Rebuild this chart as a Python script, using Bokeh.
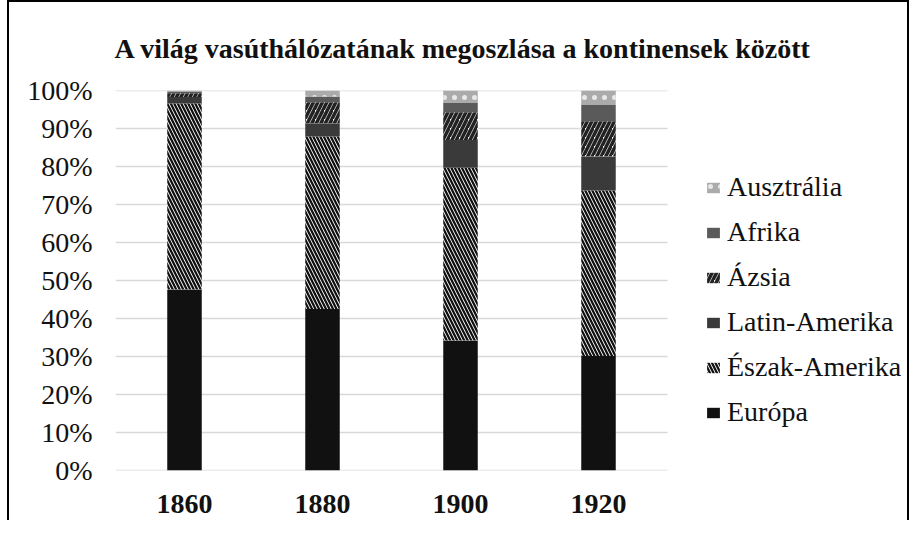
from bokeh.plotting import figure
from bokeh.models import (ColumnDataSource, Legend, LegendItem, FixedTicker,
                          NumeralTickFormatter, Range1d)
from bokeh.embed import file_html
from bokeh.resources import INLINE
import numpy as np

years = ["1860", "1880", "1900", "1920"]
series_names = ["Európa", "Észak-Amerika", "Latin-Amerika", "Ázsia", "Afrika", "Ausztrália"]
europa = [47.6, 42.5, 34.2, 30.1]
eszak_amerika = [49.0, 45.4, 45.5, 43.6]
latin_amerika = [1.7, 3.5, 7.3, 8.9]
azsia = [1.0, 5.5, 7.3, 9.3]
afrika = [0.3, 1.5, 2.4, 4.3]
ausztralia = [0.4, 1.6, 3.3, 3.8]
y_ticks = [0, 0.1, 0.2, 0.3, 0.4, 0.5, 0.6, 0.7, 0.8, 0.9, 1.0]
title_text = "A világ vasúthálózatának megoszlása a kontinensek között"

series = [europa, eszak_amerika, latin_amerika, azsia, afrika, ausztralia]
styles = [
    dict(fill_color="#111111", hatch_pattern=None),
    dict(fill_color="white", hatch_pattern="left_diagonal_line", hatch_color="#111111", hatch_scale=7, hatch_weight=2.3),
    dict(fill_color="#3a3a3a", hatch_pattern=None),
    dict(fill_color="white", hatch_pattern="right_diagonal_line", hatch_color="#222222", hatch_scale=9, hatch_weight=3.5),
    dict(fill_color="#5a5a5a", hatch_pattern=None),
    dict(fill_color="#ababab", hatch_pattern="dot", hatch_color="#e8e8e8", hatch_scale=10, hatch_weight=2),
]

FONT = "Liberation Serif"

# layout: plot area spans the category block (138 px per category) and the legend area to its right
CAT_PX = 138.0
FRAME_PX = 796.0
n = len(years)
x_pos = [i + 0.5 for i in range(n)]

p = figure(x_range=Range1d(0, FRAME_PX / CAT_PX), y_range=Range1d(0, 1),
           width=902, height=520, output_backend="svg", toolbar_location=None,
           min_border_left=106, min_border_right=0, min_border_top=88, min_border_bottom=52)
p.styles = {"margin-left": "7px", "border-left": "2px solid black",
            "border-top": "2px solid black", "border-right": "2px solid black"}
p.outline_line_color = None
p.background_fill_color = "white"
p.border_fill_color = "white"

p.title.text = title_text
p.title.text_font = FONT
p.title.text_font_size = "28px"
p.title.text_font_style = "bold"
p.title.text_color = "#111111"
p.title.align = "left"
p.title.offset = -1
p.title.standoff = 54

# horizontal gridlines over the category block only
grid_src = ColumnDataSource(dict(x0=[0] * len(y_ticks), x1=[n] * len(y_ticks), y=y_ticks))
p.segment(x0="x0", x1="x1", y0="y", y1="y", source=grid_src, line_color="#d9d9d9", line_width=1.5)

vals = np.array(series) / 100.0
cum = np.cumsum(vals, axis=0)
renderers = []
for i, name in enumerate(series_names):
    bottom = cum[i] - vals[i]
    top = cum[i]
    src = ColumnDataSource(dict(x=x_pos, bottom=list(bottom), top=list(top)))
    st = dict(styles[i])
    hp = st.pop("hatch_pattern")
    kw = dict(x="x", bottom="bottom", top="top", width=0.25, source=src,
              line_color=None, fill_color=st.pop("fill_color"))
    if hp:
        kw.update(hatch_pattern=hp, **st)
    r = p.vbar(**kw)
    renderers.append(r)

p.xgrid.grid_line_color = None
p.ygrid.grid_line_color = None
p.yaxis.ticker = FixedTicker(ticks=y_ticks)
p.yaxis.formatter = NumeralTickFormatter(format="0%")
p.xaxis.ticker = FixedTicker(ticks=x_pos)
p.xaxis.major_label_overrides = {x: y for x, y in zip(x_pos, years)}
for ax in (p.xaxis, p.yaxis):
    ax.axis_line_color = None
    ax.major_tick_line_color = None
    ax.minor_tick_line_color = None
    ax.major_label_text_font = FONT
    ax.major_label_text_color = "#111111"
p.yaxis.major_label_text_font_size = "28px"
p.yaxis.major_label_standoff = 17
p.xaxis.major_label_text_font_size = "28px"
p.xaxis.major_label_text_font_style = "bold"
p.xaxis.major_label_standoff = 18

items = [LegendItem(label=series_names[i], renderers=[renderers[i]]) for i in reversed(range(6))]
legend = Legend(items=items, location=(590, 42), padding=0, margin=0,
                glyph_width=16, glyph_height=13, label_height=30, spacing=13,
                label_standoff=6, label_text_font=FONT, label_text_font_size="28px",
                label_text_color="#111111", border_line_color=None, background_fill_alpha=0)
p.add_layout(legend, "center")

open("out.html", "w").write(file_html(p, INLINE))
